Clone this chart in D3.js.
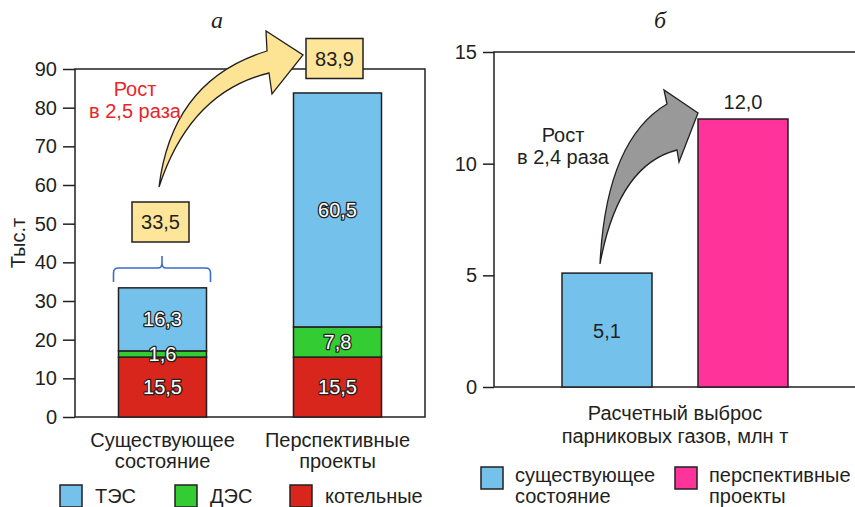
<!DOCTYPE html>
<html><head><meta charset="utf-8">
<script src="https://cdn.jsdelivr.net/npm/d3@7"></script>
<style>body{margin:0;background:#fff}svg{display:block}text{font-family:"Liberation Sans",Arial,sans-serif}</style>
</head><body>
<svg id="c" width="855" height="507"></svg>
<script>
// ---- data ----
const categoriesA = ["Существующее состояние", "Перспективные проекты"];
const catLinesA = [["Существующее", "состояние"], ["Перспективные", "проекты"]];
const seriesNamesA = ["котельные", "ДЭС", "ТЭС"];
const kotelnye = [15.5, 15.5];
const des = [1.6, 7.8];
const tes = [16.3, 60.5];
const totalsA = [33.5, 83.9];
const ticksA = [0, 10, 20, 30, 40, 50, 60, 70, 80, 90];
const legendA = ["ТЭС", "ДЭС", "котельные"];

const categoriesB = ["существующее состояние", "перспективные проекты"];
const valuesB = [5.1, 12.0];
const labelsB = ["5,1", "12,0"];
const ticksB = [0, 5, 10, 15];
const legendB = [["существующее", "состояние"], ["перспективные", "проекты"]];

const colors = {"ТЭС": "#74c2ec", "ДЭС": "#33cc33", "котельные": "#d9261c"};
const colorsB = ["#74c2ec", "#ff3399"];
const fmt = v => d3.format(".1f")(v).replace(".", ",");

const svg = d3.select("#c");
const ink = "#231f20";
const FS = 20;

// ---------- Chart A ----------
const A = {l: 75, r: 425, t: 69, b: 417};
const xA = d3.scaleBand().domain(categoriesA).range([A.l, A.r]).paddingInner(1 - 88/175).paddingOuter((1 - 88/175)/2);
const yA = d3.scaleLinear().domain([0, 90]).range([A.b, A.t]);

svg.append("rect").attr("x", A.l).attr("y", A.t).attr("width", A.r - A.l).attr("height", A.b - A.t)
  .attr("fill", "none").attr("stroke", ink).attr("stroke-width", 1.5);

const axA = svg.append("g").attr("transform", `translate(${A.l},0)`)
  .call(d3.axisLeft(yA).tickValues(ticksA).tickSize(12).tickPadding(6));
axA.select(".domain").remove();
axA.selectAll("line").attr("stroke", ink).attr("stroke-width", 1.5);
axA.selectAll("text").attr("font-size", FS).attr("fill", ink).style("font-family", '"Liberation Sans",Arial,sans-serif');

svg.append("text").attr("transform", `translate(25,243) rotate(-90)`)
  .attr("text-anchor", "middle").attr("font-size", FS).attr("fill", ink).text("Тыс.т");

const stackData = categoriesA.map((c, i) => ({cat: c, "котельные": kotelnye[i], "ДЭС": des[i], "ТЭС": tes[i]}));
const stack = d3.stack().keys(seriesNamesA)(stackData);
const gb = svg.append("g");
stack.forEach(layer => {
  layer.forEach(d => {
    gb.append("rect").attr("x", xA(d.data.cat)).attr("width", xA.bandwidth())
      .attr("y", yA(d[1])).attr("height", yA(d[0]) - yA(d[1]))
      .attr("fill", colors[layer.key]).attr("stroke", ink).attr("stroke-width", 1.5);
  });
});
stack.forEach(layer => {
  layer.forEach(d => {
    const v = d[1] - d[0];
    gb.append("text").attr("x", xA(d.data.cat) + xA.bandwidth()/2)
      .attr("y", (yA(d[0]) + yA(d[1]))/2 + 7)
      .attr("text-anchor", "middle").attr("font-size", FS)
      .attr("fill", "#fff").attr("stroke", ink).attr("stroke-width", 2.6)
      .attr("paint-order", "stroke").attr("stroke-linejoin", "round")
      .text(fmt(v));
  });
});

// category labels
catLinesA.forEach((lines, i) => {
  const cx = xA(categoriesA[i]) + xA.bandwidth()/2;
  lines.forEach((s, j) => svg.append("text").attr("x", cx).attr("y", 447 + j*21)
    .attr("text-anchor", "middle").attr("font-size", FS).attr("fill", ink).text(s));
});

// legend A
const legX = [60, 175, 290];
legendA.forEach((name, i) => {
  svg.append("rect").attr("x", legX[i]).attr("y", 485).attr("width", 22).attr("height", 22)
    .attr("fill", colors[name]).attr("stroke", ink).attr("stroke-width", 1.5);
  svg.append("text").attr("x", legX[i] + 35).attr("y", 503).attr("font-size", FS).attr("fill", ink).text(name);
});

// brace over first bar
const bx0 = xA(categoriesA[0]) - 5, bx1 = xA(categoriesA[0]) + xA.bandwidth() + 4, bm = (bx0 + bx1)/2;
svg.append("path").attr("d",
  `M${bx0},282 L${bx0},273 Q${bx0},268 ${bx0+5},268 L${bm-4},268 Q${bm},268 ${bm},263 L${bm},256 M${bm},263 Q${bm},268 ${bm+4},268 L${bx1-5},268 Q${bx1},268 ${bx1},273 L${bx1},282`)
  .attr("fill", "none").attr("stroke", "#3a6fc4").attr("stroke-width", 1.6);

// total boxes
const boxFill = "#fde59a";
function totalBox(cx, cy, txt) {
  svg.append("rect").attr("x", cx - 28.5).attr("y", cy - 20).attr("width", 57).attr("height", 40)
    .attr("fill", boxFill).attr("stroke", ink).attr("stroke-width", 1.5);
  svg.append("text").attr("x", cx).attr("y", cy + 7).attr("text-anchor", "middle")
    .attr("font-size", FS).attr("fill", ink).text(txt);
}
totalBox(160.5, 222, fmt(totalsA[0]));
totalBox(334.5, 58.5, fmt(totalsA[1]));

// yellow arrow
svg.append("path").attr("d",
  "M159,187 Q172,80 267,51 L266,31 L303,55 L272,94 L269,73 Q190,92 159,187 Z")
  .attr("fill", "#fde394").attr("stroke", ink).attr("stroke-width", 1.3).attr("stroke-linejoin", "miter");

svg.append("text").attr("x", 135).attr("y", 96).attr("text-anchor", "middle").attr("font-size", FS).attr("fill", "#e8262a").text("Рост");
svg.append("text").attr("x", 135).attr("y", 118).attr("text-anchor", "middle").attr("font-size", FS).attr("fill", "#e8262a").text("в 2,5 раза");

svg.append("text").attr("x", 217).attr("y", 28).attr("text-anchor", "middle").attr("font-size", 24)
  .attr("font-style", "italic").style("font-family", '"Liberation Serif","Times New Roman",serif').attr("fill", ink).text("а");

// ---------- Chart B ----------
const B = {l: 494, r: 856, t: 52, b: 387};
const xB = d3.scaleBand().domain(categoriesB).range([562, 788]).paddingInner(46/226 * 2 / (1 + 46/226)).paddingOuter(0);
const yB = d3.scaleLinear().domain([0, 15]).range([B.b, B.t]);

svg.append("path").attr("d", `M${B.r},${B.t} L${B.l},${B.t} L${B.l},${B.b} L${B.r},${B.b}`)
  .attr("fill", "none").attr("stroke", ink).attr("stroke-width", 1.5);
const axB = svg.append("g").attr("transform", `translate(${B.l},0)`)
  .call(d3.axisLeft(yB).tickValues(ticksB).tickSize(11).tickPadding(6));
axB.select(".domain").remove();
axB.selectAll("line").attr("stroke", ink).attr("stroke-width", 1.5);
axB.selectAll("text").attr("font-size", FS).attr("fill", ink).style("font-family", '"Liberation Sans",Arial,sans-serif');

categoriesB.forEach((c, i) => {
  svg.append("rect").attr("x", xB(c)).attr("width", xB.bandwidth())
    .attr("y", yB(valuesB[i])).attr("height", yB(0) - yB(valuesB[i]))
    .attr("fill", colorsB[i]).attr("stroke", ink).attr("stroke-width", 1.5);
});
svg.append("text").attr("x", xB(categoriesB[0]) + xB.bandwidth()/2).attr("y", yB(valuesB[0]/2) + 8)
  .attr("text-anchor", "middle").attr("font-size", FS).attr("fill", ink).text(labelsB[0]);
svg.append("text").attr("x", xB(categoriesB[1]) + xB.bandwidth()/2).attr("y", yB(valuesB[1]) - 10)
  .attr("text-anchor", "middle").attr("font-size", FS).attr("fill", ink).text(labelsB[1]);

// gray arrow
svg.append("path").attr("d",
  "M600,264 Q606,140 667,104 L664,90 L698,113 L679,162 L677,150 Q618,165 600,264 Z")
  .attr("fill", "#999999").attr("stroke", ink).attr("stroke-width", 1.3);

svg.append("text").attr("x", 563).attr("y", 142).attr("text-anchor", "middle").attr("font-size", FS).attr("fill", ink).text("Рост");
svg.append("text").attr("x", 563).attr("y", 164).attr("text-anchor", "middle").attr("font-size", FS).attr("fill", ink).text("в 2,4 раза");

svg.append("text").attr("x", 675).attr("y", 420).attr("text-anchor", "middle").attr("font-size", FS).attr("fill", ink).text("Расчетный выброс");
svg.append("text").attr("x", 675).attr("y", 443).attr("text-anchor", "middle").attr("font-size", FS).attr("fill", ink).text("парниковых газов, млн т");

const legBX = [481, 675];
legendB.forEach((lines, i) => {
  svg.append("rect").attr("x", legBX[i]).attr("y", 467).attr("width", 22).attr("height", 22)
    .attr("fill", colorsB[i]).attr("stroke", ink).attr("stroke-width", 1.5);
  lines.forEach((s, j) => svg.append("text").attr("x", legBX[i] + 34).attr("y", 482 + j*21)
    .attr("font-size", FS).attr("fill", ink).text(s));
});

svg.append("text").attr("x", 660).attr("y", 28).attr("text-anchor", "middle").attr("font-size", 24)
  .attr("font-style", "italic").style("font-family", '"Liberation Serif","Times New Roman",serif').attr("fill", ink).text("б");
</script>
</body></html>
